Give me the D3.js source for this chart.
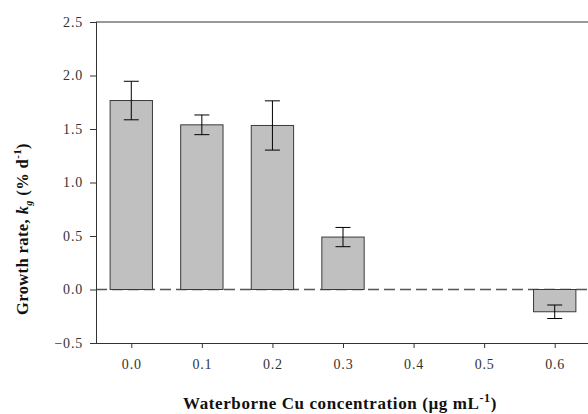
<!DOCTYPE html>
<html><head><meta charset="utf-8">
<script src="https://cdn.jsdelivr.net/npm/d3@7"></script>
<style>body{margin:0;background:#fff}</style>
</head><body>
<svg id="c" width="588" height="414"></svg>
<script>
const categories = [0.0, 0.1, 0.2, 0.3, 0.6];
const values = [1.766, 1.539, 1.533, 0.49, -0.208];
const errors = [0.18, 0.092, 0.23, 0.09, 0.063];
const xTicks = [0.0, 0.1, 0.2, 0.3, 0.4, 0.5, 0.6];
const yTicks = [-0.5, 0.0, 0.5, 1.0, 1.5, 2.0, 2.5];

const svg = d3.select("#c");
const mLeft = 96, mRight = 590, mTop = 22, mBottom = 343;
const x = d3.scaleLinear().domain([-0.05, 0.65]).range([mLeft, mRight]);
const y = d3.scaleLinear().domain([-0.5, 2.5]).range([mBottom, mTop]);
const font = "'Liberation Serif', 'Times New Roman', serif";

// zero dashed line
svg.append("line").attr("x1", mLeft).attr("x2", 588).attr("y1", y(0)).attr("y2", y(0))
  .attr("stroke", "#555").attr("stroke-width", 1.3).attr("stroke-dasharray", "11,5");

// bars
const bw = 0.06;
svg.selectAll("rect.bar").data(categories).join("rect")
  .attr("x", d => x(d - bw/2))
  .attr("width", d => x(d + bw/2) - x(d - bw/2))
  .attr("y", (d,i) => y(Math.max(0, values[i])))
  .attr("height", (d,i) => Math.abs(y(values[i]) - y(0)))
  .attr("fill", "#c0c0c0").attr("stroke", "#3a3a3a").attr("stroke-width", 1);

// error bars
const eg = svg.append("g").attr("stroke", "#000").attr("stroke-width", 1);
categories.forEach((d, i) => {
  const cx = x(d), hi = y(values[i] + errors[i]), lo = y(values[i] - errors[i]);
  eg.append("line").attr("x1", cx).attr("x2", cx).attr("y1", hi).attr("y2", lo);
  eg.append("line").attr("x1", cx - 7.5).attr("x2", cx + 7.5).attr("y1", hi).attr("y2", hi);
  eg.append("line").attr("x1", cx - 7.5).attr("x2", cx + 7.5).attr("y1", lo).attr("y2", lo);
});

// top frame line
svg.append("line").attr("x1", mLeft).attr("x2", 588).attr("y1", mTop).attr("y2", mTop)
  .attr("stroke", "#333").attr("stroke-width", 1);

// axes
const yAxis = d3.axisLeft(y).tickValues(yTicks).tickFormat(d3.format(".1f")).tickSize(6).tickPadding(7);
const gy = svg.append("g").attr("transform", `translate(${mLeft},0)`).call(yAxis);
const xAxis = d3.axisBottom(x).tickValues(xTicks).tickFormat(d3.format(".1f")).tickSize(5).tickPadding(11);
const gx = svg.append("g").attr("transform", `translate(0,${mBottom})`).call(xAxis);
[gx, gy].forEach(g => {
  g.select(".domain").attr("stroke", "#333").attr("stroke-width", 1);
  g.selectAll(".tick line").attr("stroke", "#333");
  g.selectAll("text").attr("font-family", font).attr("font-size", 14).attr("letter-spacing", 0.8).attr("fill", "#333");
});
gx.select(".domain").attr("d", `M${mLeft},0.5H588`);
gy.select(".domain").attr("d", `M0.5,${mTop}V${mBottom}`);

// x title
const xt = svg.append("text").attr("x", 340).attr("y", 409).attr("text-anchor", "middle")
  .attr("font-family", font).attr("font-size", 17).attr("letter-spacing", 0.6).attr("font-weight", "bold").attr("fill", "#111");
xt.append("tspan").text("Waterborne Cu concentration (\u00b5g mL");
xt.append("tspan").attr("dy", -7).attr("font-size", 12).text("-1");
xt.append("tspan").attr("dy", 7).text(")");

// y title
const yt = svg.append("text").attr("transform", "translate(28,229) rotate(-90)").attr("text-anchor", "middle")
  .attr("font-family", font).attr("font-size", 16.5).attr("letter-spacing", 0.4).attr("font-weight", "bold").attr("fill", "#111");
yt.append("tspan").text("Growth rate, ");
yt.append("tspan").attr("font-style", "italic").text("k");
yt.append("tspan").attr("font-style", "italic").attr("font-size", 10).attr("dy", 4).text("g");
yt.append("tspan").attr("dy", -4).text(" (% d");
yt.append("tspan").attr("dy", -7).attr("font-size", 11).text("-1");
yt.append("tspan").attr("dy", 7).text(")");
</script>
</body></html>
